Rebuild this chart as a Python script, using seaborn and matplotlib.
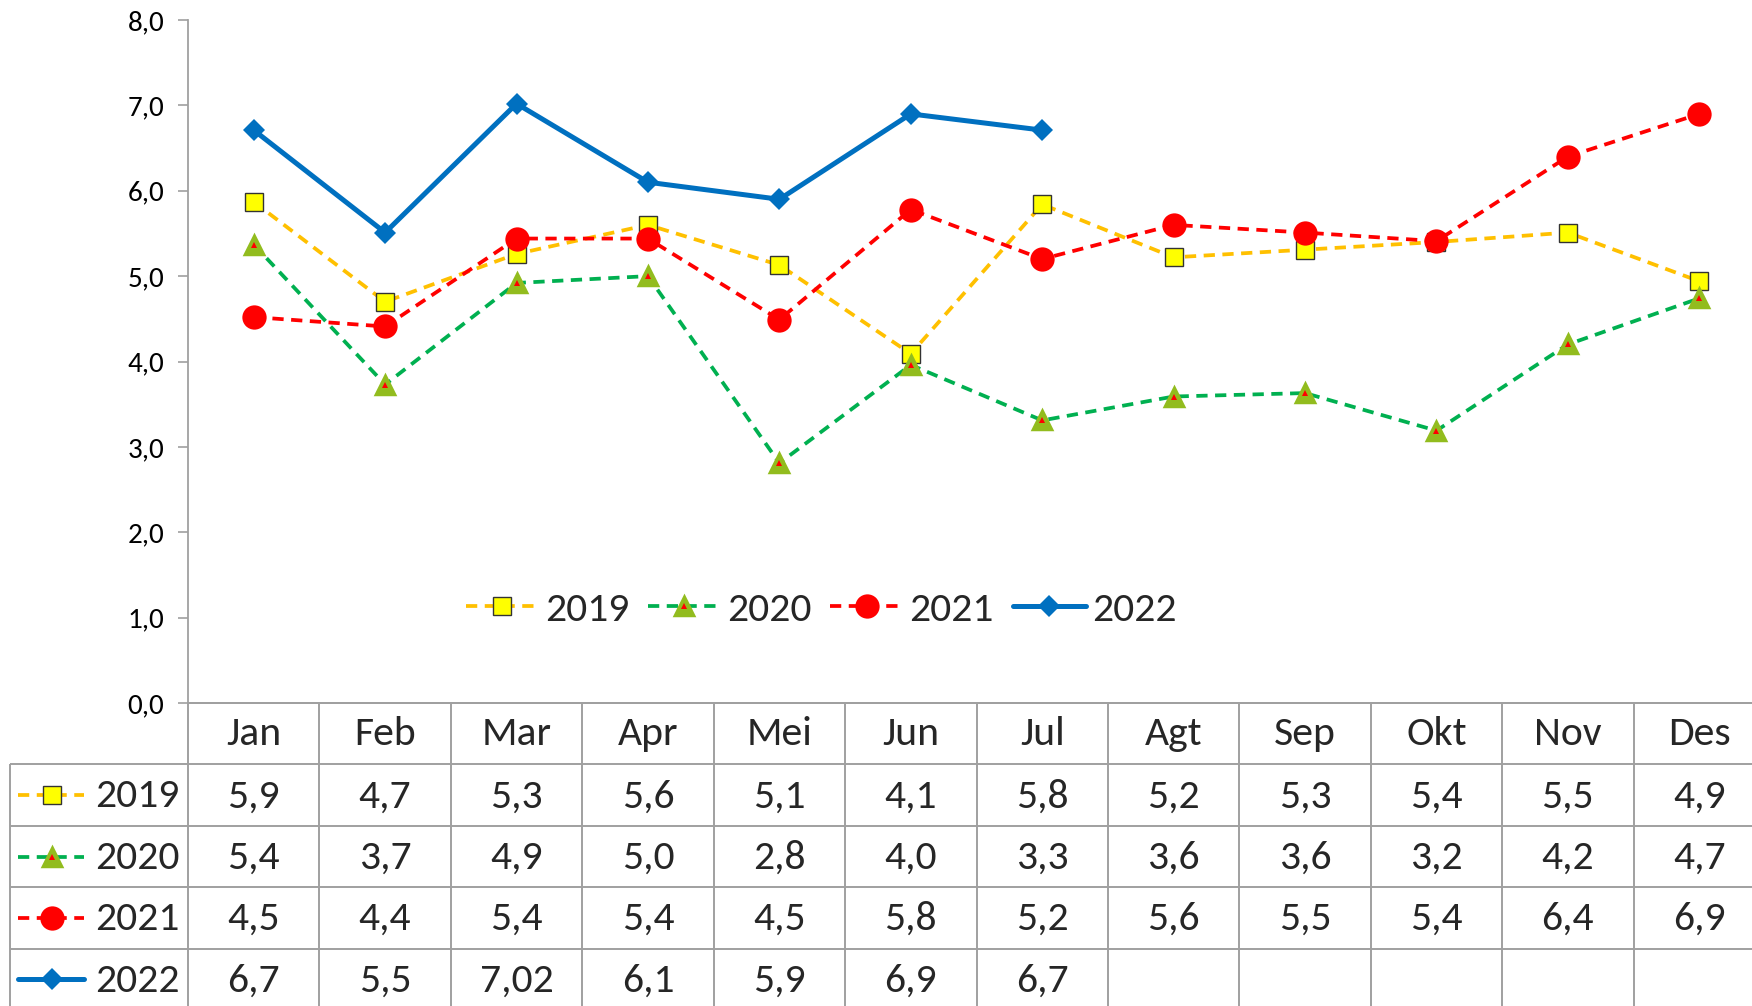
import numpy as np
import pandas as pd
import matplotlib
matplotlib.use("Agg")
import matplotlib.pyplot as plt
import seaborn as sns
from matplotlib import font_manager as fm
from matplotlib.lines import Line2D
from matplotlib.legend_handler import HandlerTuple

# ---------------- data ----------------
months = ["Jan", "Feb", "Mar", "Apr", "Mei", "Jun", "Jul", "Agt", "Sep", "Okt", "Nov", "Des"]
years = ["2019", "2020", "2021", "2022"]

v2019 = [5.87, 4.70, 5.26, 5.60, 5.13, 4.09, 5.84, 5.22, 5.31, 5.40, 5.51, 4.94]
v2020 = [5.37, 3.73, 4.92, 5.00, 2.81, 3.96, 3.31, 3.59, 3.63, 3.19, 4.20, 4.74]
v2021 = [4.52, 4.41, 5.44, 5.44, 4.49, 5.78, 5.20, 5.60, 5.51, 5.41, 6.40, 6.90]
v2022 = [6.71, 5.51, 7.02, 6.10, 5.90, 6.90, 6.71]

t2019 = ["5,9", "4,7", "5,3", "5,6", "5,1", "4,1", "5,8", "5,2", "5,3", "5,4", "5,5", "4,9"]
t2020 = ["5,4", "3,7", "4,9", "5,0", "2,8", "4,0", "3,3", "3,6", "3,6", "3,2", "4,2", "4,7"]
t2021 = ["4,5", "4,4", "5,4", "5,4", "4,5", "5,8", "5,2", "5,6", "5,5", "5,4", "6,4", "6,9"]
t2022 = ["6,7", "5,5", "7,02", "6,1", "5,9", "6,9", "6,7"]

yticks = [0, 1, 2, 3, 4, 5, 6, 7, 8]

# ---------------- style ----------------
sns.set_theme(style="white")


def pick(cands):
    for c in cands:
        try:
            fm.findfont(fm.FontProperties(family=c), fallback_to_default=False)
            return c
        except Exception:
            pass
    return "DejaVu Sans"


FONT = pick(["Carlito", "Lato", "Open Sans"])
plt.rcParams["font.family"] = [FONT, "DejaVu Sans"]

C19, C19F = "#FFC000", "#FFFF00"
C20, C20M = "#00B050", "#92BC1E"
C21 = "#FF0000"
C22 = "#0070C0"
GRID = "#A0A0A0"
DASH = (0, (3, 2))

W, H = 1752, 1006
fig = plt.figure(figsize=(W / 100, H / 100), dpi=100)
fig.patch.set_facecolor("white")

x_left, x_axis, x_right = 10, 188, 1765
y_top, y_zero, y_bot = 20, 703, 1010
catw = (x_right - x_axis) / 12.0

ax = fig.add_axes([x_axis / W, 1 - y_zero / H, (x_right - x_axis) / W, (y_zero - y_top) / H])
ax.set_facecolor("none")

# ---------------- lines ----------------
d19 = pd.DataFrame({"x": np.arange(len(v2019)), "y": v2019})
d20 = pd.DataFrame({"x": np.arange(len(v2020)), "y": v2020})
d21 = pd.DataFrame({"x": np.arange(len(v2021)), "y": v2021})
d22 = pd.DataFrame({"x": np.arange(len(v2022)), "y": v2022})

LW = 2.7
s19 = dict(color=C19, lw=LW, linestyle=DASH, marker="s", ms=12.5, markerfacecolor=C19F,
           markeredgecolor="#333333", markeredgewidth=1.0)
s20 = dict(color=C20, lw=LW, linestyle=DASH, marker="^", ms=13.5, markerfacecolor=C20M,
           markeredgecolor=C20M, markeredgewidth=2.5)
s20i = dict(color=C21, linestyle="none", marker="^", ms=5, markerfacecolor=C21,
            markeredgecolor=C21, markeredgewidth=0)
s21 = dict(color=C21, lw=LW, linestyle=DASH, marker="o", ms=17.5, markerfacecolor=C21,
           markeredgecolor=C21, markeredgewidth=0)
s22 = dict(color=C22, lw=3.6, linestyle="-", marker="D", ms=11.5, markerfacecolor=C22,
           markeredgecolor=C22, markeredgewidth=0)

sns.lineplot(data=d19, x="x", y="y", ax=ax, legend=False, errorbar=None, zorder=3, **s19)
sns.lineplot(data=d20, x="x", y="y", ax=ax, legend=False, errorbar=None, zorder=4, **s20)
sns.lineplot(data=d20, x="x", y="y", ax=ax, legend=False, errorbar=None, zorder=4.1, **s20i)
sns.lineplot(data=d21, x="x", y="y", ax=ax, legend=False, errorbar=None, zorder=5, **s21)
sns.lineplot(data=d22, x="x", y="y", ax=ax, legend=False, errorbar=None, zorder=6, **s22)

ax.set_xlim(-0.5, 11.5)
ax.set_ylim(0, 8)
ax.set_xlabel("")
ax.set_ylabel("")
ax.set_xticks([])
ax.set_yticks(yticks)
ax.set_yticklabels([f"{t:.1f}".replace(".", ",") for t in yticks], fontsize=21)
ax.tick_params(axis="y", left=True, length=7, width=1.2, color=GRID, pad=10, labelcolor="black")
for s in ["top", "right"]:
    ax.spines[s].set_visible(False)
for s in ["left", "bottom"]:
    ax.spines[s].set_color(GRID)
    ax.spines[s].set_linewidth(1.3)

# ---------------- legend ----------------
hl = [Line2D([], [], **s19),
      (Line2D([], [], **s20), Line2D([], [], **s20i)),
      Line2D([], [], **s21),
      Line2D([], [], **s22)]
leg = ax.legend(hl, years, loc="center", bbox_to_anchor=(821 / W, 1 - 610 / H),
                bbox_transform=fig.transFigure, ncol=4, frameon=False, fontsize=30,
                handlelength=1.75, handletextpad=0.15, columnspacing=0.45,
                handler_map={tuple: HandlerTuple(ndivide=1, pad=0)})

# ---------------- data table ----------------
tax = fig.add_axes([x_left / W, 1 - y_bot / H, (x_right - x_left) / W, (y_bot - y_zero) / H])
xl = -0.5 - (x_axis - x_left) / catw
tax.set_xlim(xl, 11.5)
tax.set_ylim(5, 0)
tax.axis("off")

lwg = 1.4
for r in [1, 2, 3, 4]:
    tax.hlines(r, xl, 11.5, color=GRID, lw=lwg, clip_on=False)
tax.hlines(0, -0.5, 11.5, color=GRID, lw=lwg, clip_on=False)
for k in range(13):
    tax.vlines(-0.5 + k, 0, 5, color=GRID, lw=lwg, clip_on=False)
tax.vlines(xl, 1, 5, color=GRID, lw=lwg, clip_on=False)

FS = 30
for i, m in enumerate(months):
    tax.text(i, 0.5, m, ha="center", va="center", fontsize=FS)

tables = [t2019, t2020, t2021, t2022]
for r, tl in enumerate(tables):
    for i, t in enumerate(tl):
        tax.text(i, r + 1.52, t, ha="center", va="center", fontsize=FS)


def px2x(px):
    return xl + (px - x_left) / catw


styles = [(s19, None), (s20, s20i), (s21, None), (s22, None)]
for r, (st, sti) in enumerate(styles):
    yy = r + 1.5
    line_kw = {k: v for k, v in st.items() if not k.startswith("marker") and k != "ms"}
    tax.plot([px2x(18), px2x(84)], [yy, yy], **line_kw, clip_on=False)
    tax.plot([px2x(52)], [yy], **{**st, "linestyle": "none"}, clip_on=False)
    if sti is not None:
        tax.plot([px2x(52)], [yy], **sti, clip_on=False)
    tax.text(px2x(95), yy + 0.02, years[r], ha="left", va="center", fontsize=FS)

fig.savefig("out.png", dpi=100, facecolor="white")
